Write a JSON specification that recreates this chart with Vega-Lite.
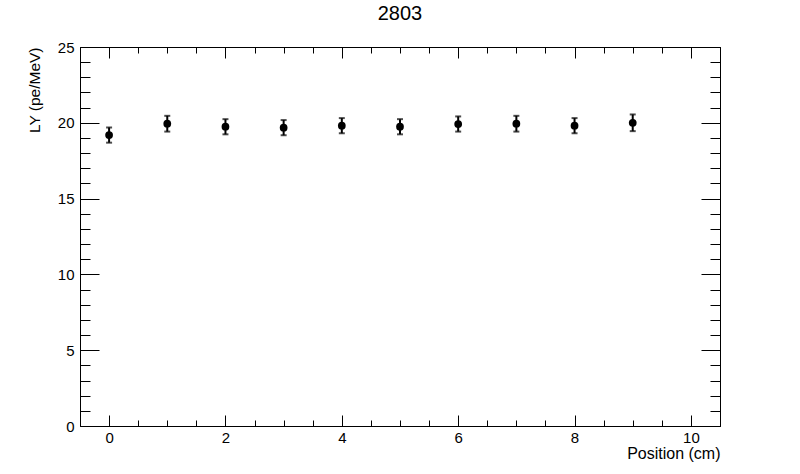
{
  "$schema": "https://vega.github.io/schema/vega-lite/v6.json",
  "width": 640,
  "height": 379,
  "autosize": {"type": "none"},
  "padding": {"left": 80, "top": 47, "right": 80, "bottom": 48},
  "background": "white",
  "config": {
    "view": {"stroke": "black", "strokeWidth": 1},
    "font": "Liberation Sans",
    "axis": {
      "grid": false,
      "domain": false,
      "tickColor": "black",
      "tickWidth": 1,
      "labelColor": "black",
      "labelFontSize": 15,
      "titleColor": "black",
      "titleFontSize": 15.5,
      "titleFontWeight": "normal"
    }
  },
  "title": {"text": "2803", "fontSize": 20, "fontWeight": "normal", "color": "black", "offset": 16},
  "data": {
    "values": [
      {"pos": 0, "ly": 19.19, "err": 0.5},
      {"pos": 1, "ly": 19.94, "err": 0.52},
      {"pos": 2, "ly": 19.74, "err": 0.5},
      {"pos": 3, "ly": 19.68, "err": 0.5},
      {"pos": 4, "ly": 19.81, "err": 0.5},
      {"pos": 5, "ly": 19.74, "err": 0.5},
      {"pos": 6, "ly": 19.92, "err": 0.5},
      {"pos": 7, "ly": 19.94, "err": 0.52},
      {"pos": 8, "ly": 19.81, "err": 0.5},
      {"pos": 9, "ly": 20.0, "err": 0.55}
    ]
  },
  "layer": [
    {
      "mark": {"type": "point", "opacity": 0},
      "encoding": {
        "x": {"field": "pos", "type": "quantitative", "scale": {"domain": [-0.5, 10.5], "nice": false, "zero": false},
          "axis": {"orient": "bottom", "values": [0, 2, 4, 6, 8, 10], "tickSize": -11, "labelPadding": 15, "title": "Position (cm)", "titleAnchor": "end", "titlePadding": 0, "titleFontSize": 16}},
        "y": {"field": "ly", "type": "quantitative", "scale": {"domain": [0, 25], "nice": false},
          "axis": {"orient": "left", "values": [0, 5, 10, 15, 20, 25], "tickSize": -19, "labelPadding": 25, "title": "LY (pe/MeV)", "titleAnchor": "end", "titlePadding": 15}}
      }
    },
    {
      "mark": {"type": "point", "opacity": 0},
      "encoding": {
        "x": {"field": "pos", "type": "quantitative",
          "axis": {"orient": "bottom", "values": [-0.5, 0, 0.5, 1, 1.5, 2, 2.5, 3, 3.5, 4, 4.5, 5, 5.5, 6, 6.5, 7, 7.5, 8, 8.5, 9, 9.5, 10, 10.5], "tickSize": -6, "labels": false, "title": null}},
        "y": {"field": "ly", "type": "quantitative",
          "axis": {"orient": "left", "values": [0, 1, 2, 3, 4, 5, 6, 7, 8, 9, 10, 11, 12, 13, 14, 15, 16, 17, 18, 19, 20, 21, 22, 23, 24, 25], "tickSize": -10, "labels": false, "title": null}}
      }
    },
    {
      "mark": {"type": "point", "opacity": 0},
      "encoding": {
        "x": {"field": "pos", "type": "quantitative",
          "axis": {"orient": "top", "values": [0, 2, 4, 6, 8, 10], "tickSize": -11, "labels": false, "title": null}},
        "y": {"field": "ly", "type": "quantitative",
          "axis": {"orient": "right", "values": [0, 5, 10, 15, 20, 25], "tickSize": -19, "labels": false, "title": null}}
      }
    },
    {
      "mark": {"type": "point", "opacity": 0},
      "encoding": {
        "x": {"field": "pos", "type": "quantitative",
          "axis": {"orient": "top", "values": [-0.5, 0, 0.5, 1, 1.5, 2, 2.5, 3, 3.5, 4, 4.5, 5, 5.5, 6, 6.5, 7, 7.5, 8, 8.5, 9, 9.5, 10, 10.5], "tickSize": -6, "labels": false, "title": null}},
        "y": {"field": "ly", "type": "quantitative",
          "axis": {"orient": "right", "values": [0, 1, 2, 3, 4, 5, 6, 7, 8, 9, 10, 11, 12, 13, 14, 15, 16, 17, 18, 19, 20, 21, 22, 23, 24, 25], "tickSize": -10, "labels": false, "title": null}}
      }
    },
    {
      "mark": {"type": "errorbar", "ticks": true, "thickness": 2, "size": 6, "color": "black"},
      "encoding": {
        "x": {"field": "pos", "type": "quantitative", "axis": null},
        "y": {"field": "ly", "type": "quantitative", "axis": null},
        "yError": {"field": "err"}
      }
    },
    {
      "mark": {"type": "circle", "size": 60, "color": "black", "opacity": 1},
      "encoding": {
        "x": {"field": "pos", "type": "quantitative", "axis": null},
        "y": {"field": "ly", "type": "quantitative", "axis": null}
      }
    }
  ],
  "resolve": {"axis": {"x": "independent", "y": "independent"}}
}
